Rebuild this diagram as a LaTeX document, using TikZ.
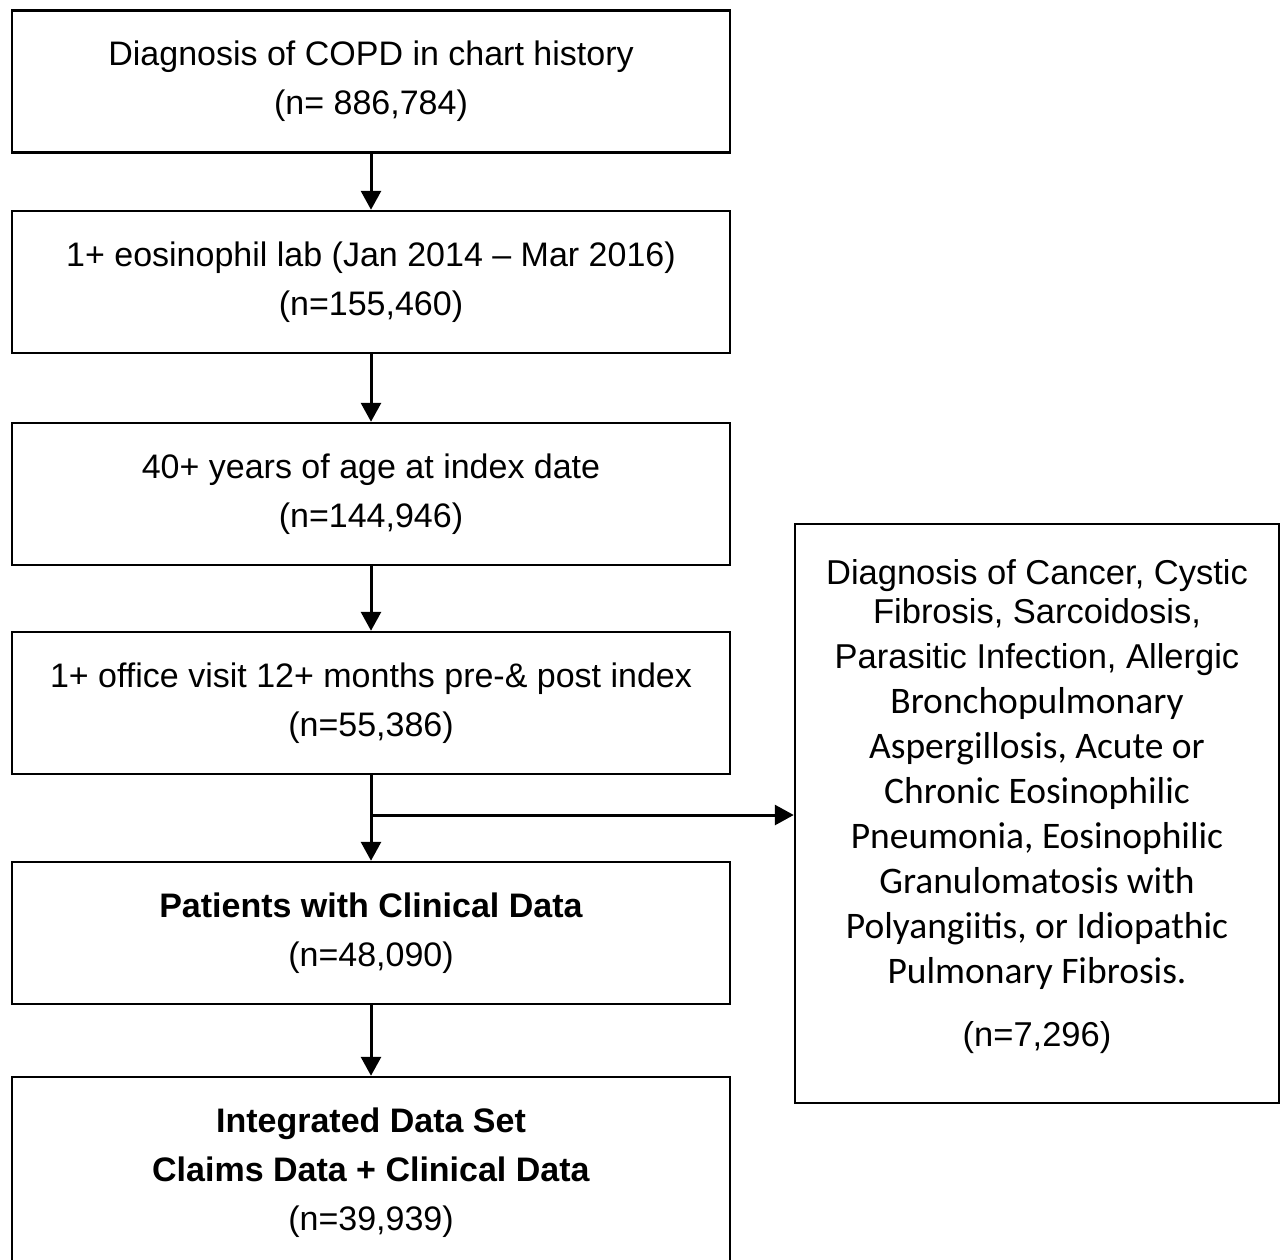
\documentclass[tikz,border=0pt]{standalone}
\usepackage{fontspec}
\setmainfont{Liberation Sans}
\newfontfamily\calib{Carlito}
\usetikzlibrary{arrows.meta}
\begin{document}
\begin{tikzpicture}[x=1pt,y=-1pt,
  box/.style={draw,line width=2.5pt,minimum width=718pt,minimum height=142pt,inner sep=0pt,align=center,font=\fontsize{34}{49}\selectfont},
  cal/.style={},
  arr/.style={line width=3pt,-{Triangle[length=19pt,width=20pt]}}]
\useasboundingbox (0,0) rectangle (1281,1259);
\clip (0,0) rectangle (1281,1259);
\fill[white] (0,0) rectangle (1281,1259);
\node[box] (b1) at (371,81.5) {Diagnosis of COPD in chart history\\(n= 886,784)};
\node[box] (b2) at (371,282) {1+ eosinophil lab (Jan 2014 -- Mar 2016)\\(n=155,460)};
\node[box] (b3) at (371,494) {40+ years of age at index date\\(n=144,946)};
\node[box] (b4) at (371,703) {1+ office visit 12+ months pre-\& post index\\(n=55,386)};
\node[box] (b5) at (371,933) {\textbf{Patients with Clinical Data}\\(n=48,090)};
\node[box,minimum height=192pt] (b6) at (371,1173) {\textbf{Integrated Data Set}\\\textbf{Claims Data + Clinical Data}\\(n=39,939)};
\node[draw,line width=2.5pt,minimum width=484pt,minimum height=579pt,inner sep=0pt] (rb) at (1037,813.5) {};
\node[inner sep=0pt,align=center,font=\fontsize{34.5}{45}\selectfont] (rbt) at (1037,807)
  {Diagnosis of Cancer, Cystic\\[-6pt]Fibrosis, Sarcoidosis,\\Parasitic Infection, Allergic\\
   {\calib\fontsize{37.5}{45.5}\selectfont Bronchopulmonary}\\
   {\calib\fontsize{37.5}{45.5}\selectfont Aspergillosis, Acute or}\\
   {\calib\fontsize{37.5}{45.5}\selectfont Chronic Eosinophilic}\\
   {\calib\fontsize{37.5}{45.5}\selectfont Pneumonia, Eosinophilic}\\
   {\calib\fontsize{37.5}{45.5}\selectfont Granulomatosis with}\\
   {\calib\fontsize{37.5}{45.5}\selectfont Polyangiitis, or Idiopathic}\\
   {\calib\fontsize{37.5}{45.5}\selectfont Pulmonary Fibrosis.}\\[18pt]
   (n=7,296)};
\draw[arr] (b1.south) -- (b2.north);
\draw[arr] (b2.south) -- (b3.north);
\draw[arr] (b3.south) -- (b4.north);
\draw[arr] (b4.south) -- (b5.north);
\draw[arr] (b5.south) -- (b6.north);
\coordinate (br) at (371,815);
\draw[arr] (br) -- (br -| rb.west);
\end{tikzpicture}
\end{document}
